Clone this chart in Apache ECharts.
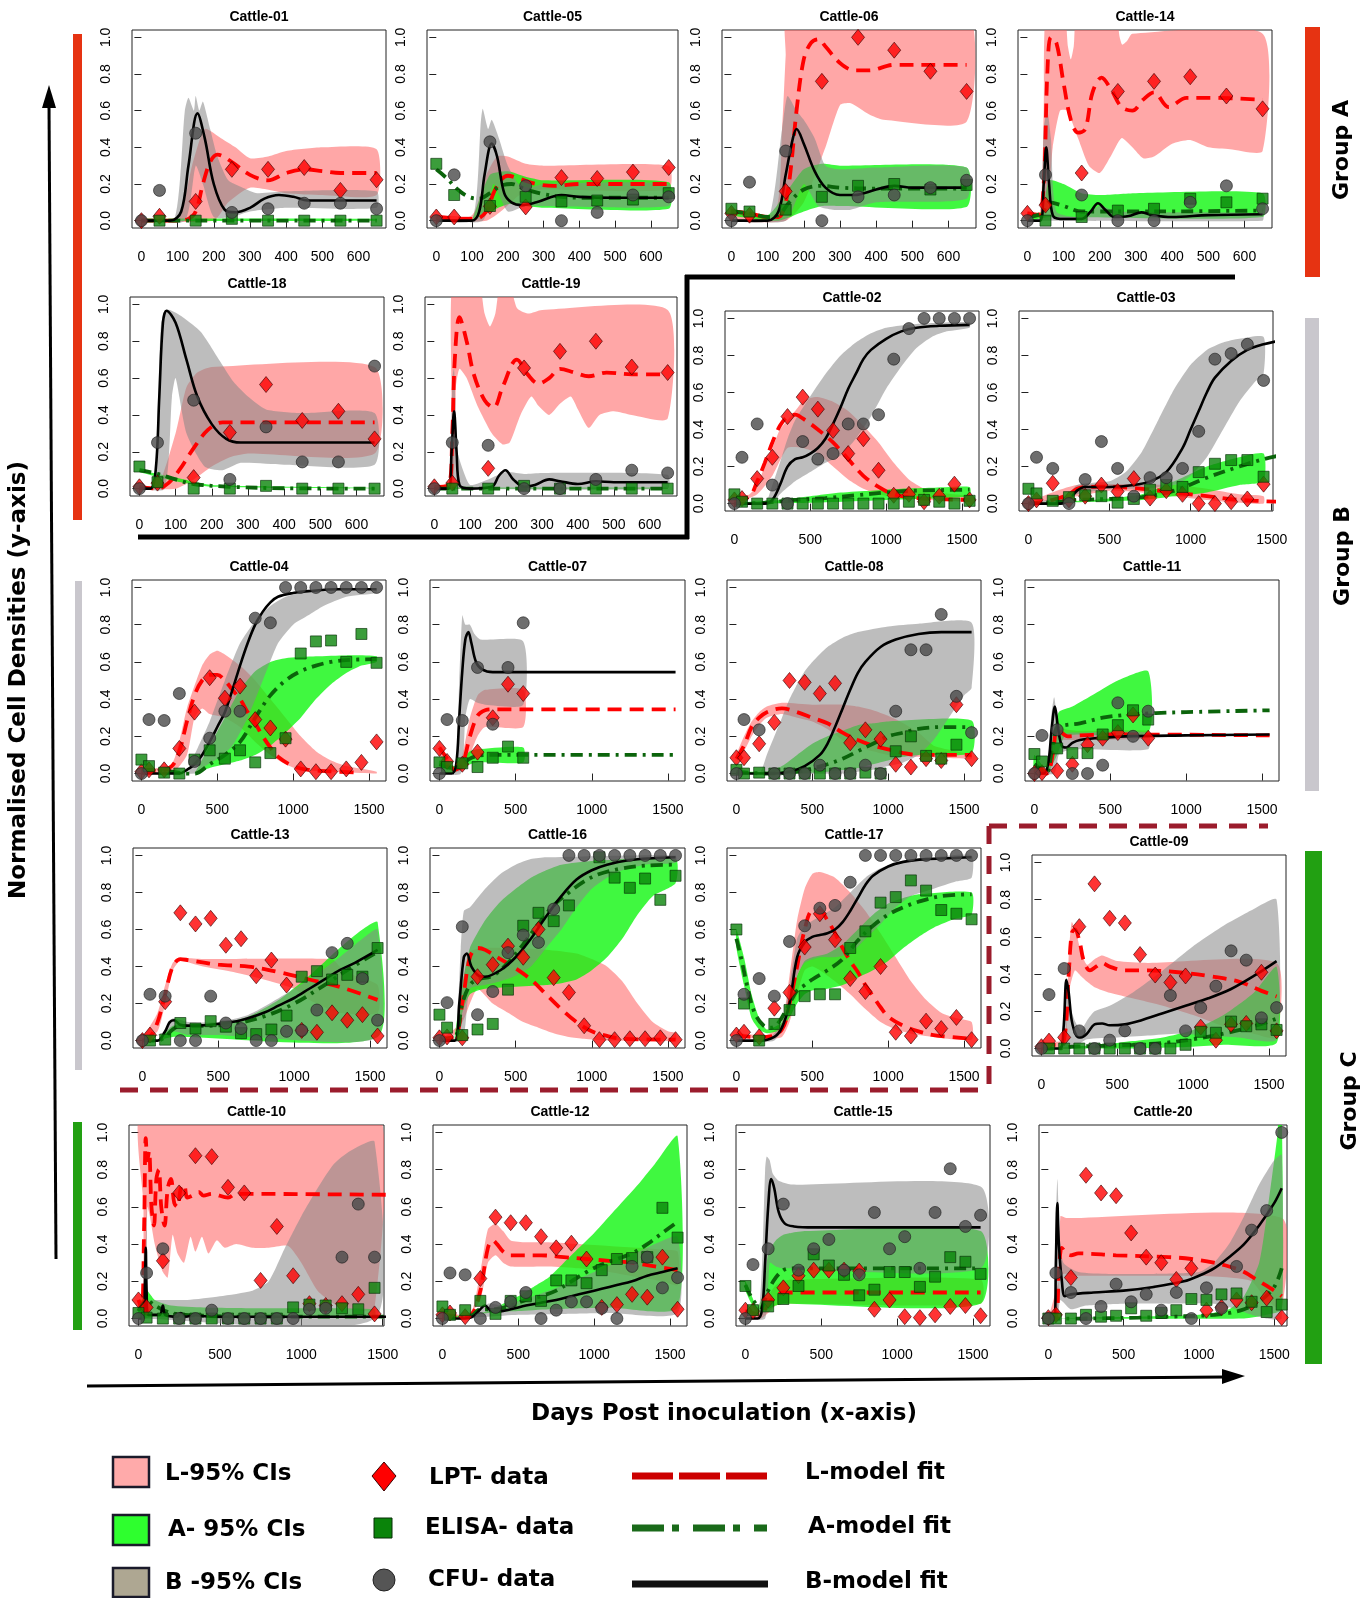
<!DOCTYPE html>
<html><head><meta charset="utf-8">
<script src="https://cdn.jsdelivr.net/npm/echarts@6/dist/echarts.min.js"></script>
<style>html,body{margin:0;padding:0;background:#fff}#chart{width:1367px;height:1598px}</style>
</head><body><div id="chart"></div><script>
// ---------------- DATA ----------------
const panelNames = ['Cattle-01','Cattle-05','Cattle-06','Cattle-14','Cattle-18','Cattle-19','Cattle-02','Cattle-03',
  'Cattle-04','Cattle-07','Cattle-08','Cattle-11','Cattle-13','Cattle-16','Cattle-17','Cattle-09',
  'Cattle-10','Cattle-12','Cattle-15','Cattle-20'];
const shortDays = [0,50,150,250,350,450,550,650];
const longDays = [0,50,150,250,350,450,550,650,750,850,950,1050,1150,1250,1350,1450,1550];
const shortTicks = [0,100,200,300,400,500,600];
const longTicks = [0,500,1000,1500];
const yTicks = [0,0.2,0.4,0.6,0.8,1.0];

// LPT data (red diamonds), per panel, aligned with sampling days
const lptY = [
 [0.0,0.024,0.105,0.28,0.28,0.29,0.165,0.223],
 [0.02,0.02,0.078,0.075,0.235,0.23,0.265,0.29],
 [0.04,0.03,0.16,0.76,1.0,0.93,0.815,0.705],
 [0.04,0.085,0.26,0.705,0.76,0.785,0.68,0.61],
 [0.01,0.03,0.06,0.305,0.565,0.37,0.42,0.27],
 [0.01,0.03,0.11,0.655,0.745,0.8,0.66,0.63],
 [0.02,0.027,0.135,0.25,0.47,0.575,0.51,0.395,0.27,0.35,0.18,0.045,0.05,0.01,0.04,0.105,0.02],
 [0.0,0.02,0.11,0.02,0.04,0.1,0.065,0.135,0.03,0.07,0.05,0.0,0.0,0.01,0.025,0.105],
 [0.01,0.02,0.02,0.135,0.33,0.515,0.405,0.47,0.29,0.245,0.185,0.025,0.01,0.01,0.025,0.06,0.17],
 [0.135,0.065,0.05,0.115,0.3,0.48,0.43],
 [0.085,0.085,0.16,0.275,0.5,0.49,0.43,0.485,0.165,0.235,0.185,0.05,0.035,0.08,0.07,0.37,0.08],
 [0.0,0.005,0.015,0.05,0.155,0.19,0.22,0.315,0.19],
 [0.0,0.03,0.21,0.69,0.63,0.66,0.515,0.55,0.35,0.435,0.3,0.055,0.045,0.15,0.11,0.14,0.025],
 [0.015,0.02,0.015,0.345,0.41,0.51,0.45,0.6,0.34,0.26,0.08,0.005,0.005,0.01,0.01,0.015,0.005],
 [0.03,0.045,0.02,0.175,0.26,0.505,0.685,0.545,0.335,0.265,0.4,0.045,0.025,0.105,0.065,0.125,0.005],
 [0.01,0.04,0.06,0.655,0.885,0.7,0.675,0.505,0.395,0.355,0.39,0.115,0.045,0.13,0.135,0.41,0.095],
 [0.1,0.06,0.31,0.675,0.875,0.87,0.705,0.675,0.205,0.495,0.23,0.08,0.07,0.08,0.13,0.025],
 [0.02,0.03,0.01,0.215,0.545,0.515,0.515,0.44,0.38,0.405,0.32,0.06,0.075,0.13,0.115,0.33,0.05],
 [0.045,0.04,0.1,0.165,0.23,0.26,0.26,0.26,0.255,0.05,0.1,0.01,0.005,0.02,0.065,0.07,0.015],
 [0.005,0.02,0.22,0.77,0.675,0.66,0.46,0.33,0.3,0.21,0.27,0.045,0.06,0.1,0.085,0.11,0.005]
];
// ELISA data (green squares)
const elisaY = [
 [null,0,0,0.01,0,0,0,0],
 [0.31,0.14,0.08,0.13,0.105,0.11,0.115,0.15],
 [0.065,0.05,0.06,0.13,0.19,0.2,0.17,0.195],
 [null,0,0.02,0.055,0.065,0.12,0.1,0.12],
 [0.12,0.035,0,0,0.015,0,0,0],
 [null,0,0,0.015,0,0,0,0],
 [0.05,0.01,0,0,0,0,0,0,0,0,0,0,0.01,0.02,0.01,0,0.015],
 [0.08,0.055,0.015,0.035,0.045,0.04,0.005,0.025,0.075,0.1,0.09,0.17,0.215,0.235,0.235,0.145],
 [0.075,0.04,0.005,0.0,0.075,0.125,0.08,0.125,0.06,0.11,0.19,0.645,0.71,0.715,0.6,0.75,0.595],
 [0.06,0.035,0.055,0.035,0.085,0.145,0.085],
 [0.02,0,0.005,0,0,0,0,0,0,0.005,0,0.12,0.2,0.095,0.08,0.155,null],
 [0.105,0.065,0.135,0.11,0.11,0.21,0.26,0.34,0.29],
 [null,0,0.005,0.095,0.065,0.105,0.075,0.04,0.035,0.06,0.135,0.345,0.375,0.33,0.355,0.345,0.5],
 [0.14,0.07,0.03,0.06,0.09,0.275,0.62,0.69,0.645,0.73,null,0.99,0.88,0.825,0.875,0.76,0.89],
 [0.6,0.2,0.0,0.09,0.165,0.24,0.25,0.25,0.5,0.59,0.745,0.775,0.865,0.81,0.705,0.685,0.655],
 [null,0,0,0,0,0,0,0,0,0,0.02,0.09,0.085,0.145,0.12,0.13,0.1],
 [0.03,0.005,0,0,0,0,0,0,0,0,0.06,0.075,0.07,0.055,0.05,0.165],
 [0.065,0.02,0.045,0.095,0.025,0.095,0.12,0.095,0.205,0.205,0.19,0.26,0.32,0.325,0.33,0.595,0.435],
 [0.175,0.045,0.065,0.105,0.175,0.345,0.285,0.235,0.125,0.155,0.25,0.25,0.17,0.225,0.33,0.305,0.24],
 [0,0,0,0.02,0.01,0.015,0.055,0.015,0.03,0.045,0.105,0.1,0.13,0.135,0.09,0.035,0.075]
];
// CFU data (grey circles)
const cfuY = [
 [0,0.165,0.477,0.045,0.065,0.095,0.095,0.065],
 [0,0.25,0.43,0.19,0,0.045,0.14,0.13],
 [0,0.21,0.38,0,0.13,0.14,0.18,0.22],
 [0,0.25,0.14,0,0,0.1,0.19,0.065],
 [0,0.25,0.48,0.05,0.335,0.145,0.145,0.665],
 [0,0.25,0.235,0,0,0.05,0.1,0.085],
 [0,0.25,0.43,0.1,0,0.335,0.24,0.27,0.43,0.43,0.48,0.78,0.945,1,1,1,1],
 [0,0.25,0.19,0,0.13,0.335,0.19,0.04,0.14,0.14,0.19,0.39,0.78,0.81,0.86,0.665],
 [0,0.29,0.285,0.43,0.065,0.19,0.335,0.335,0.835,0.81,1,1,1,1,1,1,1],
 [0,0.29,0.285,0.57,0.265,0.57,0.81],
 [0,0.29,0.235,0,0,0,0.045,0,0,0.045,0,0.335,0.665,0.665,0.855,0.415,0.22],
 [0,0.205,0.235,0,0,0.045,0.38,0.2,0.335],
 [0,0.25,0.24,0,0,0.24,0.095,0.065,0,0,0.05,0.055,0.165,0.475,0.525,0.335,0.11],
 [0,0.205,0.615,0.14,0.265,0.475,0.57,0.53,0.71,1,1,1,1,1,1,1,1],
 [0,0.25,0.335,0.24,0.535,0.62,0.715,0.73,0.855,1,1,1,1,1,1,1,1],
 [0,0.29,0.43,0.095,0,0.045,0.095,0,0,0.285,0.095,0.22,0.335,0.525,0.475,0.165,0.22],
 [0,0.245,0.375,0,0,0.045,0,0,0,0,0,0.05,0.055,0.33,0.615,0.33],
 [0,0.245,0.235,0,0.06,0.09,0.14,0,0.045,0.09,0.09,0.055,0,0.28,0.33,0.165,0.22],
 [0,0.29,0.375,0.615,0.26,0.375,0.425,0.26,0.235,0.57,0.375,0.44,0.27,0.57,0.805,0.495,0.555],
 [0,0.245,0.14,0,0.065,0.185,0.09,0.13,0.045,0.14,0,0.165,0.055,0.28,0.475,0.58,1.0]
];
// L-model fit (red dashed)
const modelL = [
 [[0,0],[100,0],[130,0.01],[150,0.05],[170,0.2],[190,0.32],[210,0.36],[250,0.32],[300,0.25],[350,0.22],[400,0.26],[450,0.28],[500,0.27],[550,0.26],[650,0.26]],
 [[0,0.02],[80,0.01],[110,0.01],[140,0.05],[160,0.15],[180,0.22],[200,0.245],[230,0.23],[280,0.2],[330,0.19],[400,0.2],[500,0.2],[650,0.2]],
 [[0,0.05],[50,0.04],[100,0.02],[130,0.02],[150,0.1],[165,0.3],[180,0.6],[200,0.88],[220,0.97],[240,0.99],[260,0.95],[300,0.86],[340,0.82],[380,0.82],[450,0.85],[550,0.85],[650,0.85]],
 [[0,0.04],[30,0.03],[45,0.2],[55,0.8],[65,1.0],[80,0.97],[100,0.75],[120,0.55],[140,0.48],[160,0.5],[180,0.7],[205,0.78],[230,0.72],[260,0.62],[290,0.6],[320,0.66],[350,0.7],[390,0.62],[440,0.67],[500,0.67],[650,0.66]],
 [[0,0.01],[50,0],[80,0.03],[110,0.1],[150,0.22],[190,0.32],[230,0.36],[300,0.36],[650,0.36]],
 [[0,0.01],[40,0.02],[50,0.3],[57,0.7],[70,0.93],[90,0.8],[110,0.62],[140,0.48],[165,0.44],[190,0.55],[230,0.7],[260,0.62],[290,0.57],[320,0.6],[350,0.65],[390,0.63],[430,0.61],[480,0.63],[550,0.62],[650,0.62]],
 [[0,0.02],[100,0.04],[150,0.12],[200,0.22],[250,0.33],[300,0.42],[350,0.47],[400,0.48],[450,0.46],[550,0.4],[650,0.33],[750,0.24],[850,0.15],[950,0.09],[1050,0.05],[1200,0.03],[1550,0.02]],
 [[0,0],[150,0.02],[250,0.05],[300,0.08],[350,0.09],[500,0.09],[700,0.08],[900,0.06],[1100,0.04],[1300,0.02],[1550,0.01]],
 [[0,0.01],[100,0.01],[200,0.04],[250,0.12],[300,0.28],[350,0.42],[400,0.5],[450,0.53],[500,0.53],[550,0.5],[600,0.45],[650,0.4],[700,0.33],[750,0.27],[800,0.2],[850,0.14],[900,0.09],[1000,0.04],[1100,0.02],[1300,0.01],[1450,0.005]],
 [[0,0.14],[50,0.08],[100,0.02],[150,0.05],[200,0.2],[250,0.31],[300,0.34],[350,0.345],[1550,0.345]],
 [[0,0.08],[50,0.15],[100,0.25],[150,0.3],[200,0.33],[300,0.35],[400,0.33],[500,0.3],[600,0.27],[700,0.22],[800,0.18],[900,0.15],[1000,0.13],[1100,0.11],[1200,0.1],[1550,0.1]],
 [[0,0.02],[80,0],[120,0.1],[150,0.25],[180,0.22],[220,0.2],[300,0.205],[550,0.21],[1550,0.205]],
 [[0,0],[50,0.02],[100,0.1],[150,0.25],[200,0.4],[250,0.44],[300,0.435],[500,0.41],[700,0.4],[900,0.37],[1100,0.33],[1300,0.29],[1550,0.22]],
 [[0,0.01],[100,0.02],[150,0.2],[200,0.45],[250,0.5],[300,0.49],[400,0.44],[500,0.39],[600,0.33],[700,0.25],[800,0.17],[900,0.1],[1000,0.05],[1100,0.025],[1200,0.01],[1550,0.005]],
 [[0,0.03],[100,0.02],[200,0.02],[300,0.06],[350,0.2],[400,0.4],[450,0.6],[500,0.7],[550,0.7],[600,0.65],[650,0.58],[700,0.5],[750,0.43],[800,0.37],[850,0.3],[900,0.24],[950,0.18],[1000,0.13],[1100,0.08],[1200,0.05],[1300,0.03],[1550,0.01]],
 [[0,0.02],[100,0.02],[150,0.05],[180,0.4],[200,0.62],[220,0.64],[250,0.58],[280,0.47],[320,0.42],[360,0.44],[400,0.46],[450,0.44],[550,0.42],[700,0.42],[900,0.41],[1100,0.39],[1300,0.36],[1450,0.31],[1550,0.28]],
 [[0,0.1],[20,0.05],[35,0.5],[45,0.97],[55,0.85],[65,0.9],[80,0.6],[95,0.5],[110,0.75],[125,0.8],[140,0.6],[160,0.5],[180,0.7],[200,0.75],[220,0.62],[240,0.6],[260,0.7],[280,0.72],[300,0.65],[330,0.66],[370,0.68],[400,0.66],[450,0.67],[550,0.65],[600,0.67],[1550,0.665]],
 [[0,0.02],[150,0.01],[200,0.03],[250,0.15],[300,0.38],[330,0.42],[360,0.4],[400,0.36],[450,0.34],[650,0.34],[800,0.33],[950,0.32],[1100,0.31],[1250,0.3],[1400,0.28],[1550,0.26]],
 [[0,0.04],[50,0.03],[100,0.02],[150,0.08],[200,0.12],[250,0.14],[300,0.14],[1550,0.14]],
 [[0,0],[50,0.01],[70,0.25],[90,0.38],[120,0.35],[150,0.34],[200,0.35],[450,0.34],[800,0.33],[950,0.32],[1100,0.3],[1200,0.28],[1300,0.25],[1400,0.2],[1500,0.15],[1550,0.12]]
];
// A-model fit (green dash-dot)
const modelA = [
 [[0,0],[650,0]],
 [[0,0.28],[30,0.23],[60,0.17],[90,0.13],[120,0.12],[150,0.15],[180,0.19],[210,0.2],[250,0.17],[300,0.145],[350,0.13],[400,0.125],[650,0.125]],
 [[0,0.05],[50,0.04],[100,0.02],[130,0.03],[160,0.1],[200,0.17],[250,0.19],[300,0.18],[400,0.175],[650,0.175]],
 [[0,0.02],[40,0.04],[60,0.1],[100,0.08],[150,0.05],[200,0.05],[300,0.05],[650,0.055]],
 [[0,0.1],[50,0.08],[100,0.05],[150,0.025],[250,0.01],[400,0.002],[650,0]],
 [[0,0],[650,0]],
 [[0,0],[200,0.005],[400,0.02],[600,0.03],[800,0.045],[1000,0.06],[1200,0.07],[1550,0.075]],
 [[0,0],[200,0.01],[300,0.02],[500,0.025],[700,0.035],[900,0.07],[1100,0.14],[1300,0.2],[1450,0.24],[1550,0.26]],
 [[0,0.02],[100,0.02],[200,0.01],[300,0],[350,0],[450,0.05],[550,0.1],[650,0.17],[750,0.3],[850,0.42],[950,0.5],[1050,0.55],[1150,0.58],[1250,0.6],[1350,0.61],[1550,0.615]],
 [[0,0.05],[50,0.035],[100,0.03],[150,0.05],[200,0.08],[250,0.095],[300,0.1],[1550,0.1]],
 [[0,0.01],[200,0],[400,0.01],[600,0.05],[700,0.08],[800,0.12],[900,0.16],[1000,0.2],[1100,0.22],[1200,0.24],[1350,0.25],[1550,0.25]],
 [[0,0.05],[50,0.02],[80,0],[120,0.15],[150,0.25],[200,0.26],[300,0.27],[450,0.3],[600,0.315],[800,0.325],[1000,0.33],[1550,0.34]],
 [[0,0],[100,0],[150,0.02],[200,0.06],[250,0.08],[400,0.08],[600,0.09],[800,0.13],[1000,0.2],[1200,0.3],[1350,0.38],[1550,0.48]],
 [[0,0.01],[100,0.02],[150,0.2],[200,0.3],[250,0.33],[350,0.35],[450,0.42],[550,0.52],[650,0.63],[750,0.73],[850,0.8],[950,0.86],[1050,0.9],[1200,0.93],[1350,0.945],[1550,0.95]],
 [[0,0.55],[30,0.45],[70,0.3],[120,0.15],[180,0.08],[230,0.07],[280,0.1],[350,0.2],[400,0.27],[450,0.3],[500,0.33],[600,0.38],[700,0.44],[800,0.54],[900,0.62],[1000,0.68],[1100,0.72],[1200,0.75],[1350,0.78],[1550,0.79]],
 [[0,0],[100,0],[200,0.01],[400,0.015],[600,0.02],[800,0.03],[1000,0.05],[1200,0.08],[1400,0.12],[1550,0.16]],
 [[0,0.04],[50,0.1],[100,0.07],[200,0.03],[400,0.015],[800,0.01],[1550,0.01]],
 [[0,0.01],[150,0.01],[200,0.02],[250,0.05],[350,0.05],[450,0.07],[550,0.1],[650,0.12],[750,0.15],[850,0.2],[950,0.25],[1050,0.29],[1150,0.32],[1250,0.35],[1350,0.4],[1450,0.46],[1550,0.52]],
 [[0,0.18],[50,0.1],[100,0.06],[150,0.15],[200,0.22],[250,0.26],[300,0.27],[1550,0.27]],
 [[0,0],[200,0],[400,0.002],[600,0.005],[800,0.01],[1000,0.015],[1100,0.02],[1200,0.03],[1300,0.05],[1400,0.09],[1500,0.17],[1550,0.27]]
];
// B-model fit (black solid)
const modelB = [
 [[0,0],[80,0],[110,0.05],[130,0.3],[155,0.585],[175,0.45],[200,0.2],[230,0.06],[260,0.045],[300,0.07],[340,0.12],[380,0.14],[420,0.13],[460,0.11],[520,0.11],[650,0.11]],
 [[0,0],[100,0],[120,0.05],[135,0.25],[155,0.42],[170,0.35],[190,0.15],[210,0.1],[240,0.085],[280,0.1],[350,0.14],[400,0.13],[500,0.125],[650,0.125]],
 [[0,0],[100,0],[130,0.05],[150,0.25],[170,0.45],[180,0.5],[200,0.42],[230,0.27],[260,0.18],[300,0.14],[340,0.14],[400,0.17],[450,0.19],[500,0.18],[650,0.18]],
 [[0,0],[35,0],[45,0.2],[52,0.4],[60,0.2],[70,0.03],[90,0.01],[150,0.01],[175,0.05],[195,0.095],[215,0.06],[240,0.02],[280,0.025],[315,0.045],[345,0.03],[400,0.02],[500,0.03],[650,0.035]],
 [[0,0],[30,0],[45,0.1],[55,0.5],[65,0.9],[75,0.965],[100,0.9],[130,0.7],[160,0.5],[200,0.35],[240,0.27],[280,0.25],[650,0.25]],
 [[0,0],[40,0],[48,0.2],[55,0.42],[62,0.2],[70,0.02],[100,0],[160,0.01],[180,0.07],[198,0.1],[220,0.05],[250,0.01],[280,0.02],[320,0.05],[350,0.04],[400,0.025],[450,0.04],[500,0.035],[650,0.035]],
 [[0,0],[200,0],[250,0.02],[300,0.1],[350,0.2],[400,0.24],[450,0.25],[500,0.27],[550,0.3],[600,0.35],[650,0.43],[700,0.52],[750,0.62],[800,0.7],[850,0.78],[900,0.83],[1000,0.89],[1100,0.93],[1200,0.95],[1350,0.96],[1550,0.965]],
 [[0,0],[200,0],[250,0.02],[300,0.07],[350,0.09],[500,0.09],[650,0.1],[750,0.12],[850,0.17],[950,0.3],[1000,0.4],[1050,0.5],[1100,0.6],[1150,0.68],[1250,0.77],[1350,0.83],[1450,0.86],[1550,0.88]],
 [[0,0],[250,0],[300,0.02],[350,0.05],[400,0.1],[450,0.17],[500,0.25],[550,0.33],[600,0.45],[650,0.58],[700,0.7],[750,0.8],[800,0.87],[850,0.92],[900,0.95],[1000,0.97],[1100,0.98],[1300,0.99],[1550,0.99]],
 [[0,0],[80,0],[110,0.05],[130,0.3],[150,0.55],[170,0.72],[190,0.76],[210,0.7],[240,0.6],[280,0.56],[350,0.545],[1550,0.545]],
 [[0,0],[250,0],[350,0.01],[450,0.04],[550,0.1],[600,0.16],[650,0.25],[700,0.35],[750,0.45],[800,0.54],[850,0.6],[950,0.68],[1050,0.72],[1200,0.75],[1350,0.76],[1550,0.76]],
 [[0,0],[60,0],[90,0.05],[115,0.25],[135,0.36],[155,0.25],[180,0.15],[210,0.14],[250,0.165],[300,0.18],[400,0.19],[600,0.2],[1000,0.205],[1550,0.21]],
 [[0,0],[100,0],[150,0.05],[180,0.1],[210,0.11],[250,0.085],[350,0.08],[500,0.09],[650,0.11],[800,0.15],[900,0.19],[1000,0.23],[1100,0.28],[1200,0.33],[1300,0.38],[1400,0.42],[1550,0.49]],
 [[0,0],[100,0],[130,0.2],[160,0.45],[180,0.47],[210,0.4],[260,0.35],[300,0.345],[400,0.38],[500,0.45],[600,0.55],[700,0.67],[800,0.78],[900,0.87],[1000,0.92],[1100,0.95],[1250,0.975],[1400,0.985],[1550,0.99]],
 [[0,0],[150,0],[250,0.02],[300,0.07],[350,0.2],[400,0.45],[450,0.53],[500,0.56],[550,0.57],[600,0.58],[650,0.6],[700,0.64],[750,0.7],[800,0.77],[850,0.84],[900,0.89],[1000,0.94],[1100,0.965],[1250,0.98],[1400,0.985],[1550,0.99]],
 [[0,0],[120,0],[145,0.1],[165,0.37],[180,0.3],[200,0.15],[230,0.07],[260,0.06],[300,0.08],[350,0.13],[400,0.135],[450,0.125],[550,0.13],[650,0.15],[800,0.19],[950,0.23],[1100,0.27],[1250,0.32],[1400,0.39],[1550,0.47]],
 [[0,0],[30,0],[40,0.2],[45,0.38],[50,0.15],[60,0.02],[130,0.02],[150,0.07],[165,0.02],[240,0.01],[260,0.03],[290,0.01],[350,0.02],[380,0.015],[450,0.01],[1550,0.01]],
 [[0,0],[150,0],[200,0.01],[250,0.05],[280,0.07],[320,0.04],[350,0.035],[450,0.05],[550,0.07],[650,0.085],[750,0.1],[850,0.12],[950,0.14],[1050,0.16],[1150,0.18],[1250,0.2],[1350,0.23],[1450,0.25],[1550,0.27]],
 [[0,0],[80,0],[110,0.05],[130,0.3],[150,0.6],[170,0.75],[190,0.7],[220,0.57],[260,0.51],[320,0.495],[450,0.49],[1550,0.49]],
 [[0,0],[40,0],[50,0.3],[60,0.62],[70,0.4],[90,0.2],[110,0.12],[150,0.13],[300,0.14],[500,0.15],[700,0.17],[900,0.2],[1000,0.23],[1100,0.27],[1200,0.33],[1300,0.4],[1400,0.5],[1500,0.62],[1550,0.7]]
];
// L 95% CI band: upper / lower edges (values above the plot top are cut at the frame)
const bandLhi = [
 [[0,0],[100,0],[140,0.3],[175,0.5],[220,0.45],[260,0.4],[300,0.34],[350,0.35],[400,0.38],[500,0.4],[650,0.39]],
 [[0,0.03],[100,0.03],[140,0.25],[170,0.35],[200,0.35],[250,0.31],[300,0.3],[650,0.3]],
 [[0,0.06],[120,0.04],[140,0.5],[150,0.9],[158,1.15],[650,1.15]],
 [[0,0.05],[35,0.05],[45,0.6],[52,1.15],[100,1.15],[112,0.95],[120,0.88],[128,0.95],[140,1.15],[240,1.15],[255,1.0],[262,0.96],[275,0.98],[290,1.02],[650,1.02]],
 [[0,0.01],[50,0.01],[100,0.3],[130,0.55],[160,0.63],[200,0.66],[650,0.66]],
 [[0,0.01],[45,0.01],[48,0.5],[52,1.15],[120,1.15],[140,0.95],[155,0.88],[170,0.95],[185,1.15],[205,1.15],[230,0.98],[260,0.95],[300,0.97],[650,0.97]],
 [[0,0.02],[100,0.05],[150,0.1],[200,0.2],[250,0.3],[300,0.4],[350,0.45],[400,0.5],[450,0.55],[500,0.57],[550,0.575],[650,0.55],[750,0.5],[850,0.42],[950,0.33],[1050,0.22],[1150,0.13],[1250,0.08],[1350,0.06],[1450,0.05],[1550,0.04]],
 [[0,0.01],[300,0.1],[900,0.1],[1100,0.08],[1300,0.05],[1450,0.04]],
 [[0,0.02],[200,0.05],[300,0.35],[400,0.58],[450,0.64],[500,0.66],[550,0.64],[650,0.58],[750,0.5],[850,0.4],[950,0.3],[1050,0.2],[1150,0.12],[1250,0.07],[1350,0.04],[1550,0.01]],
 [[0,0.15],[100,0.03],[150,0.1],[200,0.3],[250,0.42],[300,0.45],[550,0.45]],
 [[0,0.1],[50,0.2],[100,0.28],[150,0.33],[200,0.36],[300,0.38],[500,0.37],[700,0.37],[800,0.36],[900,0.34],[1000,0.31],[1100,0.27],[1200,0.22],[1300,0.15],[1450,0.12],[1550,0.1]],
 [[0,0.02],[100,0.02],[150,0.28],[200,0.24],[300,0.23],[750,0.23]],
 [[0,0.01],[100,0.15],[150,0.3],[200,0.42],[250,0.445],[400,0.44],[1250,0.44],[1300,0.4],[1400,0.35],[1550,0.3]],
 [[0,0.02],[100,0.03],[150,0.3],[200,0.48],[300,0.5],[500,0.5],[700,0.49],[900,0.47],[1000,0.44],[1100,0.4],[1200,0.32],[1300,0.2],[1400,0.1],[1500,0.05],[1550,0.04]],
 [[0,0.04],[200,0.03],[300,0.1],[350,0.35],[400,0.65],[450,0.82],[500,0.9],[550,0.91],[650,0.88],[750,0.8],[850,0.7],[950,0.58],[1050,0.45],[1150,0.32],[1250,0.22],[1350,0.15],[1450,0.12],[1550,0.1]],
 [[0,0.03],[150,0.05],[180,0.5],[200,0.68],[230,0.62],[260,0.52],[300,0.45],[350,0.48],[400,0.5],[500,0.47],[700,0.46],[1550,0.46]],
 [[0,0.1],[28,0.1],[31,0.6],[34,1.15],[1450,1.15]],
 [[0,0.03],[150,0.02],[200,0.05],[250,0.25],[300,0.48],[350,0.51],[400,0.47],[450,0.42],[550,0.41],[700,0.41],[900,0.4],[1100,0.39],[1300,0.38],[1450,0.37],[1550,0.36]],
 [[0,0.05],[100,0.03],[150,0.12],[200,0.18],[250,0.2],[300,0.21],[1550,0.21]],
 [[0,0.01],[60,0.01],[80,0.55],[120,0.54],[1550,0.54]]
];
const bandLlo = [
 [[0,0],[200,0],[240,0.1],[300,0.18],[400,0.15],[500,0.14],[650,0.14]],
 [[0,0],[140,0],[180,0.05],[220,0.12],[250,0.16],[300,0.17],[650,0.17]],
 [[0,0],[150,0],[200,0.1],[260,0.4],[300,0.63],[330,0.64],[380,0.58],[420,0.55],[650,0.54]],
 [[0,0.02],[50,0.02],[70,0.4],[90,0.6],[110,0.6],[140,0.45],[170,0.3],[200,0.26],[230,0.35],[260,0.45],[290,0.4],[320,0.34],[350,0.35],[400,0.42],[450,0.44],[500,0.4],[560,0.39],[650,0.38]],
 [[0,0],[100,0],[150,0.05],[200,0.12],[250,0.17],[300,0.19],[650,0.19]],
 [[0,0],[50,0],[60,0.55],[70,0.65],[90,0.6],[120,0.45],[160,0.3],[190,0.24],[210,0.25],[240,0.4],[270,0.5],[290,0.45],[320,0.4],[350,0.46],[380,0.5],[400,0.43],[430,0.33],[460,0.4],[500,0.42],[550,0.4],[650,0.38]],
 [[0,0],[150,0.05],[250,0.15],[350,0.3],[450,0.3],[550,0.27],[650,0.2],[750,0.13],[850,0.08],[950,0.05],[1100,0.03],[1550,0.01]],
 [[0,0],[300,0.04],[500,0.07],[700,0.06],[900,0.04],[1100,0.02],[1300,0.005],[1450,0]],
 [[0,0],[200,0],[300,0.1],[350,0.3],[400,0.35],[450,0.32],[550,0.3],[650,0.25],[750,0.17],[850,0.1],[950,0.05],[1050,0.02],[1550,0]],
 [[0,0.1],[100,0.01],[150,0.02],[200,0.1],[250,0.2],[300,0.25],[550,0.25]],
 [[0,0.08],[50,0.12],[100,0.2],[150,0.26],[200,0.3],[300,0.32],[400,0.3],[500,0.28],[600,0.24],[700,0.18],[800,0.14],[900,0.12],[1000,0.1],[1200,0.09],[1550,0.08]],
 [[0,0],[100,0],[150,0.18],[200,0.18],[750,0.19]],
 [[0,0],[100,0.05],[150,0.2],[200,0.38],[250,0.43],[400,0.4],[600,0.37],[800,0.33],[1000,0.28],[1100,0.22],[1200,0.18],[1300,0.15],[1550,0.15]],
 [[0,0],[150,0.1],[200,0.2],[250,0.28],[350,0.2],[450,0.15],[550,0.1],[650,0.07],[750,0.04],[850,0.02],[950,0.01],[1100,0],[1550,0]],
 [[0,0.02],[200,0.01],[300,0.02],[350,0.1],[400,0.25],[450,0.38],[500,0.4],[550,0.38],[650,0.32],[750,0.25],[850,0.17],[950,0.1],[1050,0.06],[1200,0.03],[1550,0.005]],
 [[0,0],[150,0.02],[180,0.3],[220,0.42],[260,0.39],[300,0.36],[350,0.33],[450,0.3],[600,0.27],[800,0.23],[1000,0.18],[1200,0.12],[1400,0.08],[1550,0.06]],
 [[0,0.05],[40,0.1],[55,0.6],[70,0.55],[100,0.4],[130,0.3],[150,0.25],[180,0.22],[210,0.45],[240,0.35],[280,0.3],[320,0.44],[350,0.36],[390,0.44],[430,0.35],[480,0.42],[530,0.38],[600,0.4],[700,0.38],[800,0.38],[920,0.39],[1000,0.3],[1100,0.15],[1200,0.08],[1300,0.05],[1450,0.05]],
 [[0,0.01],[150,0],[250,0.1],[300,0.3],[350,0.34],[400,0.3],[450,0.28],[700,0.28],[900,0.27],[1100,0.25],[1300,0.22],[1450,0.2],[1550,0.18]],
 [[0,0],[100,0],[150,0.03],[200,0.07],[250,0.08],[300,0.08],[1550,0.08]],
 [[0,0],[70,0.2],[100,0.24],[200,0.23],[1000,0.23],[1200,0.22],[1350,0.2],[1450,0.1],[1550,0.05]]
];
// A 95% CI band
const bandAhi = [
 [[0,0.01],[650,0.01]],
 [[100,0],[150,0.25],[200,0.27],[250,0.24],[300,0.22],[650,0.21]],
 [[0,0.06],[100,0.03],[150,0.15],[200,0.28],[250,0.31],[300,0.3],[650,0.29]],
 [[0,0.03],[40,0.05],[60,0.22],[100,0.2],[150,0.15],[200,0.14],[300,0.15],[650,0.15]],
 [[0,0.1],[100,0.06],[200,0.02],[650,0.005]],
 [[0,0.005],[650,0.005]],
 [[0,0.005],[300,0.02],[500,0.04],[700,0.06],[900,0.07],[1100,0.08],[1300,0.085],[1550,0.09]],
 [[0,0.005],[400,0.02],[700,0.05],[900,0.12],[1100,0.2],[1300,0.25],[1450,0.27]],
 [[350,0],[450,0.15],[550,0.3],[650,0.45],[750,0.55],[850,0.6],[950,0.62],[1150,0.63],[1350,0.635],[1550,0.63]],
 [[0,0.07],[100,0.04],[150,0.08],[200,0.12],[250,0.13],[550,0.14]],
 [[0,0.01],[200,0.01],[300,0.04],[400,0.1],[500,0.16],[600,0.2],[700,0.23],[800,0.26],[900,0.27],[1000,0.28],[1550,0.285]],
 [[0,0.1],[80,0.02],[120,0.2],[160,0.33],[250,0.36],[400,0.43],[550,0.5],[750,0.55]],
 [[100,0],[200,0.08],[300,0.085],[500,0.09],[700,0.13],[900,0.22],[1100,0.35],[1300,0.5],[1450,0.6],[1550,0.64]],
 [[100,0.02],[150,0.3],[200,0.5],[300,0.65],[400,0.75],[500,0.82],[600,0.88],[700,0.92],[800,0.95],[1000,0.97],[1550,0.98]],
 [[0,0.6],[50,0.45],[100,0.25],[150,0.12],[200,0.06],[300,0.1],[400,0.35],[450,0.43],[500,0.45],[600,0.47],[700,0.52],[800,0.6],[900,0.68],[1000,0.74],[1100,0.77],[1200,0.79],[1550,0.8]],
 [[0,0],[200,0.01],[400,0.02],[600,0.04],[800,0.06],[1000,0.1],[1200,0.18],[1400,0.3],[1550,0.44]],
 [[0,0.05],[50,0.15],[100,0.1],[200,0.07],[400,0.06],[800,0.055],[1450,0.05]],
 [[0,0.01],[200,0.02],[300,0.04],[400,0.08],[500,0.12],[600,0.17],[700,0.22],[800,0.3],[900,0.38],[1000,0.46],[1100,0.55],[1200,0.64],[1300,0.73],[1400,0.83],[1550,0.98]],
 [[0,0.2],[80,0.06],[120,0.15],[150,0.35],[200,0.42],[250,0.45],[300,0.46],[400,0.47],[1550,0.47]],
 [[0,0],[200,0.005],[600,0.01],[1000,0.02],[1200,0.05],[1300,0.12],[1400,0.3],[1450,0.55],[1500,0.85],[1520,0.98],[1535,1.15],[1550,1.15]]
];
const bandAlo = [
 [[0,0],[650,0]],
 [[100,0],[150,0.05],[200,0.09],[250,0.08],[300,0.07],[650,0.065]],
 [[0,0.03],[130,0],[200,0.05],[250,0.08],[300,0.08],[650,0.075]],
 [[0,0],[60,0.02],[650,0.02]],
 [[0,0.09],[100,0.04],[200,0.01],[650,0]],
 [[0,0],[650,0]],
 [[0,0],[500,0.005],[1000,0.02],[1550,0.04]],
 [[0,0],[400,0.01],[700,0.02],[900,0.04],[1100,0.06],[1300,0.1],[1450,0.12]],
 [[350,0],[450,0.03],[550,0.05],[650,0.07],[750,0.1],[850,0.15],[950,0.22],[1050,0.3],[1150,0.4],[1250,0.48],[1350,0.54],[1450,0.58],[1550,0.6]],
 [[0,0.04],[100,0.02],[150,0.03],[200,0.05],[250,0.06],[550,0.06]],
 [[0,0],[400,0],[600,0.01],[800,0.03],[900,0.05],[1000,0.07],[1100,0.09],[1200,0.1],[1550,0.11]],
 [[0,0],[80,0],[150,0.1],[200,0.2],[300,0.21],[750,0.22]],
 [[100,0],[200,0.02],[1550,0.02]],
 [[100,0],[150,0.15],[200,0.25],[300,0.28],[700,0.3],[800,0.31],[900,0.33],[1000,0.38],[1100,0.45],[1200,0.55],[1300,0.68],[1400,0.78],[1550,0.85]],
 [[0,0.5],[50,0.3],[100,0.12],[150,0.06],[200,0.04],[300,0.06],[400,0.2],[450,0.25],[500,0.27],[600,0.28],[700,0.3],[800,0.34],[900,0.38],[1000,0.43],[1100,0.5],[1200,0.56],[1300,0.61],[1450,0.66],[1550,0.68]],
 [[0,0],[500,0],[800,0.005],[1000,0.01],[1200,0.02],[1550,0.03]],
 [[0,0],[100,0.01],[1450,0.01]],
 [[0,0],[300,0.03],[500,0.04],[700,0.05],[1100,0.06],[1550,0.06]],
 [[0,0.15],[80,0.03],[150,0.05],[200,0.07],[250,0.08],[1550,0.08]],
 [[0,0],[1300,0],[1450,0.02],[1550,0.05]]
];
// B 95% CI band
const bandBhi = [
 [[0,0],[90,0],[120,0.6],[130,0.67],[145,0.6],[150,0.68],[160,0.6],[170,0.65],[190,0.5],[210,0.35],[240,0.22],[280,0.18],[320,0.15],[400,0.16],[650,0.16]],
 [[0,0],[100,0],[125,0.55],[130,0.61],[145,0.5],[155,0.55],[175,0.45],[200,0.3],[230,0.2],[260,0.18],[300,0.2],[650,0.2]],
 [[0,0],[100,0],[140,0.5],[155,0.68],[180,0.6],[200,0.55],[230,0.45],[260,0.3],[300,0.28],[400,0.29],[650,0.29]],
 [[0,0],[35,0],[45,0.5],[55,0.6],[65,0.45],[80,0.05],[150,0.02],[200,0.08],[250,0.05],[650,0.04]],
 [[0,0],[40,0],[60,0.9],[80,0.97],[120,0.93],[170,0.85],[220,0.7],[260,0.58],[300,0.5],[350,0.43],[450,0.41],[650,0.41]],
 [[0,0],[40,0],[50,0.6],[55,0.65],[65,0.2],[80,0.1],[100,0.02],[150,0.05],[200,0.09],[250,0.08],[300,0.085],[650,0.075]],
 [[0,0],[200,0],[250,0.1],[300,0.22],[350,0.35],[400,0.45],[500,0.58],[600,0.7],[700,0.8],[800,0.87],[900,0.92],[1000,0.95],[1200,0.97],[1550,0.98]],
 [[0,0],[200,0],[300,0.1],[500,0.12],[600,0.17],[700,0.28],[800,0.45],[900,0.62],[1000,0.75],[1100,0.83],[1200,0.87],[1300,0.89],[1450,0.9]],
 [[0,0],[300,0],[350,0.1],[450,0.28],[550,0.5],[650,0.7],[750,0.82],[850,0.9],[950,0.95],[1100,0.98],[1300,0.99],[1550,0.99]],
 [[0,0],[100,0],[130,0.5],[150,0.85],[170,0.8],[200,0.8],[230,0.75],[270,0.72],[550,0.71]],
 [[0,0],[150,0],[200,0.1],[250,0.2],[300,0.3],[350,0.4],[400,0.48],[450,0.55],[500,0.6],[600,0.68],[700,0.73],[800,0.76],[1000,0.79],[1200,0.805],[1550,0.81]],
 [[0,0],[80,0],[110,0.3],[130,0.41],[150,0.3],[180,0.22],[250,0.22],[750,0.22]],
 [[0,0],[150,0.05],[200,0.12],[300,0.1],[500,0.1],[700,0.14],[900,0.23],[1100,0.33],[1300,0.45],[1450,0.55],[1550,0.6]],
 [[0,0],[100,0],[140,0.5],[160,0.7],[200,0.72],[300,0.82],[400,0.9],[500,0.95],[600,0.98],[700,0.99],[1550,1.0]],
 [[0,0],[200,0],[300,0.1],[350,0.3],[400,0.55],[450,0.62],[550,0.67],[650,0.72],[750,0.8],[850,0.88],[950,0.93],[1100,0.97],[1300,0.99],[1550,1.0]],
 [[0,0],[130,0],[160,0.3],[180,0.25],[220,0.15],[260,0.1],[300,0.15],[350,0.2],[450,0.23],[600,0.3],[800,0.42],[1000,0.55],[1200,0.66],[1400,0.75],[1550,0.8]],
 [[0,0],[30,0],[40,0.1],[50,0.6],[60,0.1],[100,0.1],[300,0.1],[500,0.12],[700,0.15],[800,0.2],[900,0.38],[1000,0.55],[1100,0.7],[1200,0.83],[1300,0.9],[1450,0.95]],
 [[0,0],[200,0],[300,0.08],[400,0.07],[600,0.12],[800,0.18],[1000,0.25],[1200,0.32],[1400,0.4],[1550,0.44]],
 [[0,0],[80,0],[110,0.3],[130,0.8],[140,0.87],[160,0.85],[180,0.78],[220,0.74],[300,0.72],[1550,0.71]],
 [[0,0],[40,0],[50,0.5],[60,0.75],[75,0.45],[100,0.3],[200,0.25],[400,0.24],[700,0.24],[1000,0.25],[1100,0.3],[1200,0.4],[1300,0.55],[1400,0.72],[1500,0.85],[1550,0.88]]
];
const bandBlo = [
 [[0,0],[120,0],[150,0.3],[170,0.2],[200,0.02],[250,0.02],[300,0.05],[400,0.07],[650,0.07]],
 [[0,0],[130,0],[160,0.2],[200,0.05],[250,0.08],[300,0.08],[650,0.08]],
 [[0,0],[150,0],[200,0.2],[240,0.08],[280,0.06],[330,0.06],[400,0.1],[650,0.12]],
 [[0,0],[80,0],[650,0]],
 [[0,0],[70,0],[90,0.5],[100,0.6],[130,0.3],[180,0.12],[230,0.1],[280,0.14],[400,0.13],[650,0.13]],
 [[0,0],[650,0]],
 [[0,0],[250,0],[300,0.05],[400,0.12],[500,0.17],[600,0.22],[700,0.26],[800,0.35],[900,0.47],[1000,0.62],[1100,0.74],[1200,0.84],[1300,0.9],[1400,0.93],[1550,0.95]],
 [[0,0],[300,0.05],[500,0.08],[700,0.08],[900,0.1],[1000,0.15],[1100,0.25],[1200,0.4],[1300,0.55],[1400,0.66],[1450,0.7]],
 [[0,0],[350,0],[400,0.03],[500,0.08],[600,0.15],[700,0.3],[800,0.5],[900,0.7],[1000,0.8],[1100,0.85],[1200,0.9],[1350,0.95],[1550,0.97]],
 [[0,0],[140,0],[170,0.3],[200,0.4],[250,0.38],[300,0.37],[550,0.37]],
 [[0,0],[700,0],[800,0.01],[900,0.02],[1000,0.04],[1100,0.06],[1200,0.1],[1300,0.18],[1400,0.3],[1500,0.42],[1550,0.46]],
 [[0,0],[130,0],[160,0.1],[200,0.12],[300,0.13],[750,0.13]],
 [[0,0],[200,0.05],[300,0.03],[500,0.03],[700,0.02],[1550,0.02]],
 [[0,0],[150,0],[200,0.28],[300,0.3],[400,0.32],[500,0.35],[600,0.4],[700,0.5],[800,0.6],[900,0.72],[1000,0.82],[1100,0.88],[1200,0.92],[1350,0.95],[1550,0.96]],
 [[0,0],[250,0],[350,0.15],[400,0.35],[450,0.42],[550,0.45],[650,0.45],[750,0.47],[850,0.55],[950,0.63],[1050,0.72],[1150,0.78],[1300,0.82],[1450,0.86],[1550,0.88]],
 [[0,0],[200,0],[300,0.05],[500,0.06],[700,0.07],[900,0.08],[1100,0.07],[1300,0.06],[1550,0.05]],
 [[0,0],[1450,0]],
 [[0,0],[300,0.01],[500,0.02],[800,0.025],[1100,0.03],[1550,0.03]],
 [[0,0],[130,0],[160,0.3],[200,0.28],[250,0.27],[1550,0.27]],
 [[0,0],[60,0],[80,0.1],[150,0.05],[250,0.07],[500,0.08],[800,0.08],[1100,0.08],[1250,0.05],[1350,0.02],[1450,0],[1550,0]]
];
// x-axis extents (days) per panel
const xRange = [[-26,676],[-26,676],[-26,676],[-26,676],[-26,676],[-26,676],[-62,1612],[-58,1508],
 [-62,1612],[-62,1612],[-62,1612],[-62,1612],[-62,1612],[-62,1612],[-62,1612],[-62,1612],
 [-58,1508],[-62,1612],[-62,1612],[-62,1585]];

// ---------------- LAYOUT ----------------
const layout = [
 [132,30,254,198],[427,30,251,198],[722,30,254,198],[1018,30,254,198],
 [130,297,254,199],[425,297,252,199],[725,311,254,200],[1019,311,254,200],
 [132,580,254,201],[430,580,255,201],[727,580,254,201],[1025,580,254,201],
 [133,848,254,200],[430,848,255,200],[727,848,254,200],[1032,855,254,201],
 [129,1125,255,201],[433,1125,254,201],[736,1125,254,201],[1039,1125,248,201]
];
const TF = '"Liberation Sans", Arial, sans-serif';
const DF = '"DejaVu Sans", Verdana, sans-serif';

const option = {animation:false, backgroundColor:'#fff', grid:[], xAxis:[], yAxis:[], series:[], graphic:[]};
const G = option.graphic;

function pts(vals, days){ const o=[]; vals.forEach((v,k)=>{ if(v!==null && v!==undefined) o.push([days[k], v]); }); return o; }
function band(i, hi, lo, fill){
  return {type:'custom', xAxisIndex:i, yAxisIndex:i, z:1, silent:true, clip:true,
    data:[[hi[0][0], Math.min(hi[0][1],1)]],
    renderItem:function(params, api){
      const p = hi.map(q=>api.coord(q)).concat(lo.slice().reverse().map(q=>api.coord(q)));
      return {type:'polygon', shape:{points:p, smooth:0.2}, style:{fill:fill, stroke:null}};
    }};
}

panelNames.forEach((name,i)=>{
  const [l,t,w,h] = layout[i];
  const isShort = i < 6;
  const days = isShort ? shortDays : longDays;
  const ticks = isShort ? shortTicks : longTicks;
  option.grid.push({left:l, top:t, width:w, height:h, show:true, borderColor:'#222', borderWidth:1, backgroundColor:'#fff'});
  option.xAxis.push({type:'value', gridIndex:i, min:xRange[i][0], max:xRange[i][1],
    axisLine:{show:false}, splitLine:{show:false},
    axisTick:{show:true, length:7, customValues:ticks, lineStyle:{color:'#222', width:1}},
    axisLabel:{customValues:ticks, margin:22, fontSize:14, fontFamily:TF, color:'#000', formatter:v=>String(v)}});
  option.yAxis.push({type:'value', gridIndex:i, min:-0.04, max:1.04,
    axisLine:{show:false}, splitLine:{show:false},
    axisTick:{show:true, length:7, customValues:yTicks, lineStyle:{color:'#222', width:1}},
    axisLabel:{customValues:yTicks, rotate:90, margin:19, fontSize:14, fontFamily:TF, color:'#000', formatter:v=>v.toFixed(1)}});
  option.series.push(band(i, bandLhi[i], bandLlo[i], 'rgba(255,95,95,0.55)'));
  option.series.push(band(i, bandAhi[i], bandAlo[i], 'rgba(0,245,0,0.75)'));
  option.series.push(band(i, bandBhi[i], bandBlo[i], 'rgba(135,135,135,0.55)'));
  option.series.push({type:'line', xAxisIndex:i, yAxisIndex:i, z:3, data:modelL[i], smooth:0.35, symbol:'none', silent:true,
    lineStyle:{color:'#ff0000', width:3.8, type:[14,8]}});
  option.series.push({type:'line', xAxisIndex:i, yAxisIndex:i, z:3, data:modelA[i], smooth:0.35, symbol:'none', silent:true,
    lineStyle:{color:'#0b640b', width:3.8, type:[12,6,3,6]}});
  option.series.push({type:'line', xAxisIndex:i, yAxisIndex:i, z:3, data:modelB[i], smooth:0.35, symbol:'none', silent:true,
    lineStyle:{color:'#000', width:2.6}});
  option.series.push({type:'scatter', xAxisIndex:i, yAxisIndex:i, z:4, data:pts(lptY[i], days), symbol:'diamond', symbolSize:[13,16], silent:true,
    itemStyle:{color:'#ff0000', borderColor:'#3a0000', borderWidth:0.8}});
  option.series.push({type:'scatter', xAxisIndex:i, yAxisIndex:i, z:4, data:pts(elisaY[i], days), symbol:'rect', symbolSize:11, silent:true,
    itemStyle:{color:'#0a840a', borderColor:'#062e06', borderWidth:0.8}});
  option.series.push({type:'scatter', xAxisIndex:i, yAxisIndex:i, z:4, data:pts(cfuY[i], days), symbol:'circle', symbolSize:12, silent:true,
    itemStyle:{color:'#4a4a4a', borderColor:'#1e1e1e', borderWidth:0.8}});
  G.push({type:'text', x:l+w/2, y:t-13, silent:true, style:{text:name, font:'bold 14px '+TF, fill:'#000', align:'center', verticalAlign:'middle'}});
});

// decorations
function rect(x,y,w,h,fill){ G.push({type:'rect', silent:true, shape:{x,y,width:w,height:h}, style:{fill}}); }
function line(x1,y1,x2,y2,stroke,lw,dash){ G.push({type:'line', silent:true, shape:{x1,y1,x2,y2}, style:{stroke, lineWidth:lw, lineDash:dash||null}}); }
function txt(x,y,s,font,rot,align){ G.push({type:'text', x, y, rotation:rot||0, silent:true, style:{text:s, font, fill:'#000', align:align||'left', verticalAlign:'middle'}}); }
// group bars
rect(73,34,9,486,'#e63312'); rect(75,581,7,489,'#c9c7cd'); rect(73,1122,9,208,'#22a012');
rect(1305,27,15,250,'#e63312'); rect(1305,318,14,473,'#c9c7cd'); rect(1305,851,17,513,'#22a012');
txt(1342,150,'Group A','bold 22px '+DF,Math.PI/2,'center');
txt(1343,556,'Group B','bold 22px '+DF,Math.PI/2,'center');
txt(1350,1101,'Group C','bold 22px '+DF,Math.PI/2,'center');
// dividers
line(685,277,1235,277,'#000',5); line(687,275,687,539,'#000',5); line(138,537,689,537,'#000',5);
line(989,826,1268,826,'#9b1c2c',5,[18,12]); line(989,826,989,1092,'#9b1c2c',5,[18,12]); line(120,1090,989,1090,'#9b1c2c',5,[18,12]);
// axis arrows
line(56,1259,49,104,'#000',3);
G.push({type:'polygon', silent:true, shape:{points:[[49,85],[42,108],[56,108]]}, style:{fill:'#000'}});
line(87,1386,1225,1377,'#000',3);
G.push({type:'polygon', silent:true, shape:{points:[[1245,1376],[1222,1369],[1222,1384]]}, style:{fill:'#000'}});
txt(19,680,'Normalised Cell Densities (y-axis)','bold 23px '+DF,Math.PI/2,'center');
txt(724,1414,'Days Post inoculation (x-axis)','bold 23px '+DF,0,'center');
// legend
G.push({type:'rect', silent:true, shape:{x:113,y:1457,width:36,height:30}, style:{fill:'#ffaaaa', stroke:'#1a1a2a', lineWidth:2.5}});
G.push({type:'rect', silent:true, shape:{x:113,y:1515,width:36,height:30}, style:{fill:'#2eff2e', stroke:'#1a1a2a', lineWidth:2.5}});
G.push({type:'rect', silent:true, shape:{x:113,y:1568,width:36,height:29}, style:{fill:'#aea792', stroke:'#1a1a2a', lineWidth:2.5}});
txt(165,1474,'L-95% CIs','bold 23px '+DF); txt(168,1530,'A- 95% CIs','bold 23px '+DF); txt(165,1583,'B -95% CIs','bold 23px '+DF);
G.push({type:'polygon', silent:true, shape:{points:[[384,1462],[396,1476],[384,1491],[372,1476]]}, style:{fill:'#ff0000', stroke:'#3a0000', lineWidth:1}});
G.push({type:'rect', silent:true, shape:{x:374,y:1518,width:18,height:20}, style:{fill:'#0a840a', stroke:'#062e06', lineWidth:1}});
G.push({type:'circle', silent:true, shape:{cx:384,cy:1580,r:11}, style:{fill:'#555', stroke:'#222', lineWidth:1}});
txt(429,1478,'LPT- data','bold 23px '+DF); txt(425,1528,'ELISA- data','bold 23px '+DF); txt(428,1580,'CFU- data','bold 23px '+DF);
line(632,1476,767,1476,'#cc0000',7,[41,6]);
line(632,1528,767,1528,'#1a6a1a',7,[32,8,7,14]);
line(632,1584,768,1584,'#111',7);
txt(805,1473,'L-model fit','bold 23px '+DF); txt(808,1527,'A-model fit','bold 23px '+DF); txt(805,1582,'B-model fit','bold 23px '+DF);

const chart = echarts.init(document.getElementById('chart'), null, {renderer:'canvas'});
chart.setOption(option);
</script></body></html>
